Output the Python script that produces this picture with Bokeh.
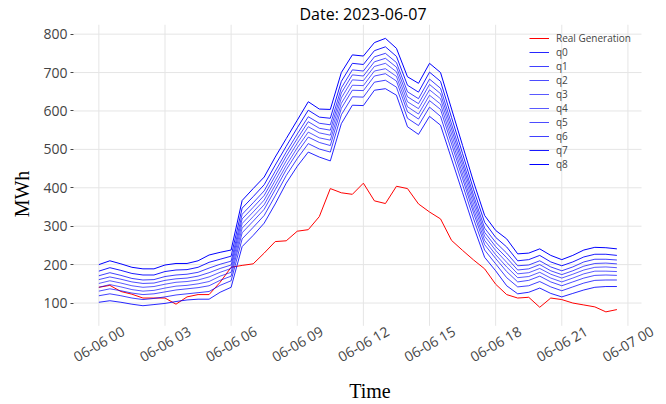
import math
import pandas as pd
from bokeh.plotting import figure
from bokeh.models import Range1d, FixedTicker, Legend, LegendItem
from bokeh.core.properties import value
from bokeh.embed import file_html
from bokeh.resources import INLINE

# ---------------- data ----------------
times = pd.date_range("2023-06-06 00:00", periods=48, freq="30min")

real_generation = [141, 146, 130, 123, 113, 113, 113, 97, 116, 122,
                   122, 154, 193, 198, 202, 230, 260, 262, 287, 291,
                   325, 398, 387, 383, 412, 366, 359, 404, 398, 358,
                   337, 319, 263, 237, 212, 189, 149, 122, 113, 115,
                   89, 113, 109, 100, 95, 90, 77, 83]

q0 = [102, 106, 102, 97, 93, 96, 99, 104, 108, 110, 110, 128, 141, 247, 276, 308, 358, 412, 456, 493, 480, 470, 567, 615, 614, 654, 658, 641, 559, 539, 586, 563, 475, 387, 299, 219, 184, 145, 124, 128, 139, 125, 116, 125, 134, 141, 143, 143]
q1 = [119, 124, 119, 113, 109, 112, 116, 121, 124, 127, 130, 146, 158, 267, 297, 328, 379, 432, 476, 515, 501, 493, 590, 637, 636, 675, 680, 662, 581, 562, 610, 586, 497, 408, 319, 238, 202, 166, 142, 145, 156, 142, 132, 142, 152, 159, 160, 160]
q2 = [131, 137, 132, 126, 122, 124, 129, 134, 137, 140, 145, 159, 170, 283, 313, 344, 395, 447, 492, 532, 518, 510, 607, 654, 653, 691, 697, 678, 598, 579, 627, 604, 514, 424, 334, 252, 216, 182, 155, 159, 170, 155, 145, 155, 165, 172, 173, 172]
q3 = [141, 148, 142, 135, 131, 133, 139, 144, 146, 150, 156, 170, 180, 295, 325, 356, 407, 458, 504, 545, 530, 524, 620, 667, 666, 704, 710, 690, 611, 592, 641, 618, 527, 436, 345, 263, 226, 194, 166, 169, 180, 165, 155, 165, 176, 183, 183, 182]
q4 = [151, 158, 152, 145, 141, 143, 149, 154, 156, 160, 168, 180, 190, 307, 337, 368, 419, 470, 516, 559, 543, 537, 634, 681, 679, 716, 724, 702, 624, 606, 655, 632, 540, 449, 357, 274, 237, 206, 176, 179, 190, 175, 165, 175, 186, 193, 194, 192]
q5 = [161, 168, 162, 155, 151, 152, 159, 163, 165, 170, 179, 190, 199, 319, 349, 380, 431, 482, 528, 572, 555, 550, 647, 694, 691, 728, 737, 714, 637, 619, 669, 645, 553, 461, 369, 284, 247, 218, 186, 189, 200, 184, 174, 184, 196, 203, 204, 202]
q6 = [171, 179, 172, 164, 160, 161, 169, 173, 175, 180, 191, 201, 209, 331, 361, 392, 443, 493, 540, 585, 568, 564, 660, 707, 704, 741, 750, 726, 650, 632, 683, 659, 566, 473, 380, 295, 258, 230, 197, 199, 210, 194, 184, 194, 207, 214, 214, 212]
q7 = [183, 192, 185, 177, 173, 173, 182, 186, 187, 193, 206, 214, 222, 347, 377, 408, 459, 508, 556, 602, 584, 581, 677, 724, 721, 757, 767, 742, 667, 649, 701, 677, 583, 489, 395, 310, 271, 246, 210, 213, 224, 207, 197, 207, 220, 227, 227, 224]
q8 = [200, 210, 202, 193, 189, 189, 199, 203, 203, 210, 225, 232, 238, 367, 398, 428, 480, 528, 576, 624, 605, 604, 700, 746, 743, 778, 789, 763, 689, 672, 724, 700, 605, 510, 415, 328, 289, 267, 228, 230, 241, 224, 213, 224, 238, 245, 244, 241]

quantile_series = [q0, q1, q2, q3, q4, q5, q6, q7, q8]
quantile_names = ["q0", "q1", "q2", "q3", "q4", "q5", "q6", "q7", "q8"]
quantile_alpha = [0.85, 0.75, 0.7, 0.65, 0.65, 0.7, 0.75, 0.9, 1.0]

tick_times = pd.date_range("2023-06-06 00:00", periods=9, freq="3h")
tick_labels = ["06-06 00", "06-06 03", "06-06 06", "06-06 09", "06-06 12",
               "06-06 15", "06-06 18", "06-06 21", "06-07 00"]
y_ticks = [100, 200, 300, 400, 500, 600, 700, 800]

title_text = "Date: 2023-06-07"

# ---------------- layout constants ----------------
x_start = pd.Timestamp("2023-06-05 22:51")
x_area_end = pd.Timestamp("2023-06-07 00:37")   # visible right edge of the plotting area
x_canvas_end = pd.Timestamp("2023-06-07 01:45")  # frame reaches the canvas edge (room for labels)
y_top = 825.1
y_area_bottom = 40.7
y_canvas_bottom = -57.4

p = figure(width=666, height=404, x_axis_type="datetime",
           output_backend="svg", toolbar_location=None,
           x_range=Range1d(x_start.to_pydatetime(), x_canvas_end.to_pydatetime()),
           y_range=Range1d(y_canvas_bottom, y_top),
           min_border_left=73, min_border_right=0,
           min_border_top=24, min_border_bottom=38)

p.title.text = title_text
p.title.align = "left"
p.title.offset = 226
p.title.text_font = "Open Sans"
p.title.text_font_size = "16px"
p.title.text_font_style = "normal"
p.title.text_color = "black"
p.title.standoff = 0

p.outline_line_color = None
p.background_fill_color = "white"
p.border_fill_color = "white"

tick_ms = [t.timestamp() * 1000 for t in tick_times]
x_start_ms = x_start.timestamp() * 1000
x_area_end_ms = x_area_end.timestamp() * 1000

# x axis: only its title; tick labels drawn as rotated text centred on ticks
p.xaxis.ticker = FixedTicker(ticks=[])
p.xaxis.major_tick_out = 0
p.xaxis.major_tick_in = 0
p.xaxis.major_label_standoff = 0
p.xaxis.major_tick_line_color = None
p.xaxis.minor_tick_line_color = None
p.xaxis.axis_line_color = None
p.xaxis.axis_label = "Time"
p.xaxis.axis_label_text_font = "Liberation Serif"
p.xaxis.axis_label_text_font_size = "20px"
p.xaxis.axis_label_text_font_style = "normal"
p.xaxis.axis_label_text_color = "black"
p.xaxis.axis_label_standoff = 16

# y axis
p.yaxis.ticker = FixedTicker(ticks=y_ticks)
p.yaxis.major_label_text_font = "Open Sans"
p.yaxis.major_label_text_font_size = "14px"
p.yaxis.major_label_text_color = "#444444"
p.yaxis.major_tick_in = 0
p.yaxis.major_tick_out = 3
p.yaxis.major_tick_line_color = "#444444"
p.yaxis.minor_tick_line_color = None
p.yaxis.axis_line_color = None
p.yaxis.major_label_standoff = 3
p.yaxis.axis_label = "MWh"
p.yaxis.axis_label_text_font = "Liberation Serif"
p.yaxis.axis_label_text_font_size = "20px"
p.yaxis.axis_label_text_font_style = "normal"
p.yaxis.axis_label_text_color = "black"
p.yaxis.axis_label_standoff = 7

p.xgrid.grid_line_color = None
p.ygrid.grid_line_color = None

# grid lines limited to the visible plotting area
p.segment(x0=tick_ms, y0=[y_area_bottom] * len(tick_ms),
          x1=tick_ms, y1=[y_top] * len(tick_ms),
          line_color="#e5e5e5", line_width=1, level="underlay")
p.segment(x0=[x_start_ms] * len(y_ticks), y0=y_ticks,
          x1=[x_area_end_ms] * len(y_ticks), y1=y_ticks,
          line_color="#e5e5e5", line_width=1, level="underlay")

# ---------------- lines ----------------
items = []
r_real = p.line(times, real_generation, line_color="red", line_width=1)
items.append(LegendItem(label="Real Generation", renderers=[r_real]))
for name, series, a in zip(quantile_names, quantile_series, quantile_alpha):
    r = p.line(times, series, line_color="blue", line_alpha=a, line_width=1)
    items.append(LegendItem(label=name, renderers=[r]))

# x tick labels, rotated and centred on each tick
p.text(x=tick_ms, y=[y_area_bottom] * len(tick_ms), text=tick_labels,
       angle=math.pi / 6, y_offset=18,
       text_align="center", text_baseline="middle",
       text_font=value("Open Sans"), text_font_size="14px",
       text_color="#444444")

legend = Legend(items=items, location=(450, 186))
legend.background_fill_alpha = 0
legend.border_line_alpha = 0
legend.label_text_font = "Open Sans"
legend.label_text_font_size = "10px"
legend.label_text_color = "#444444"
legend.glyph_width = 20
legend.glyph_height = 14
legend.label_height = 14
legend.spacing = 0
legend.padding = 6
legend.margin = 0
legend.label_standoff = 7
p.add_layout(legend)

open("out.html", "w").write(file_html(p, INLINE))
